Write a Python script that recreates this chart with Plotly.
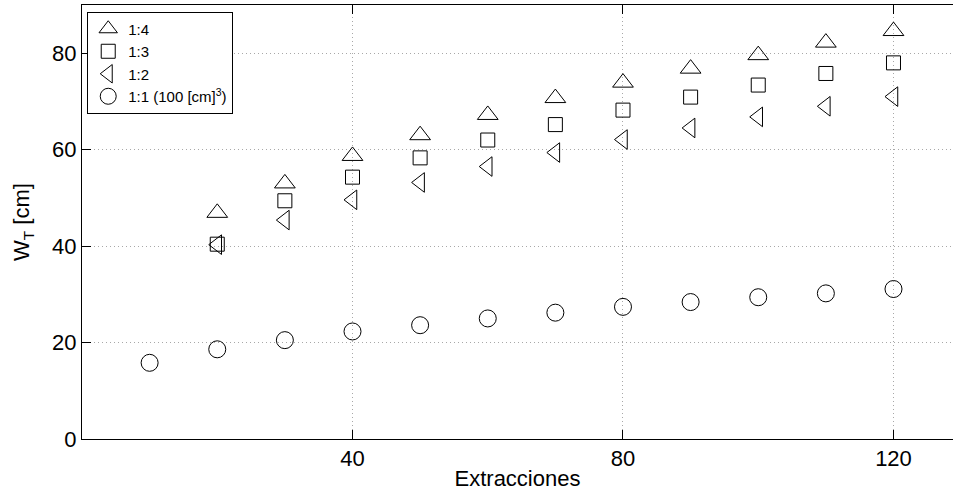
import plotly.graph_objects as go

# Extraction counts
x_all = [10, 20, 30, 40, 50, 60, 70, 80, 90, 100, 110, 120]
x_mix = [20, 30, 40, 50, 60, 70, 80, 90, 100, 110, 120]

# W_T [cm] for each ratio
w_14 = [46.9, 53.0, 58.7, 63.0, 67.2, 70.7, 73.9, 76.8, 79.6, 82.2, 84.6]
w_13 = [40.4, 49.4, 54.3, 58.3, 62.0, 65.2, 68.2, 70.9, 73.4, 75.8, 78.0]
w_12 = [40.3, 45.4, 49.6, 53.2, 56.5, 59.4, 62.1, 64.5, 66.8, 69.0, 71.0]
w_11 = [15.8, 18.6, 20.5, 22.3, 23.6, 25.0, 26.2, 27.4, 28.4, 29.4, 30.2, 31.1]

x_ticks = [40, 80, 120]
y_ticks = [0, 20, 40, 60, 80]

FONT = "Liberation Sans, Arial, sans-serif"

series = [
    ("1:4", x_mix, w_14, "triangle-up-open", 18),
    ("1:3", x_mix, w_13, "square-open", 14),
    ("1:2", x_mix, w_12, "triangle-left-open", 17),
    ("1:1 (100 [cm]<sup>3</sup>)", x_all, w_11, "circle-open", 17),
]

fig = go.Figure()
for name, xs, ys, sym, sz in series:
    fig.add_trace(go.Scatter(
        x=xs, y=ys, mode="markers", name=name,
        marker=dict(symbol=sym, size=sz, color="black",
                    line=dict(color="black", width=1)),
    ))

fig.update_layout(
    width=953, height=496,
    margin=dict(l=82, r=0, t=5, b=57),
    paper_bgcolor="white", plot_bgcolor="white",
    font=dict(family=FONT, size=22, color="black"),
    showlegend=True,
    legend=dict(
        x=0.006, y=0.985, xanchor="left", yanchor="top",
        bgcolor="white", bordercolor="black", borderwidth=1,
        font=dict(family=FONT, size=15, color="black"),
        itemsizing="trace", tracegroupgap=0,
    ),
)

grid = dict(showgrid=True, gridcolor="#a8a8a8", griddash="1px,3px", gridwidth=1)

fig.update_xaxes(
    range=[0, 128.8], tickmode="array", tickvals=x_ticks,
    ticks="inside", ticklen=9, tickwidth=1, tickcolor="black",
    showline=True, linecolor="black", linewidth=1, mirror="ticks",
    zeroline=False, **grid,
    title=dict(text="Extracciones", standoff=0, font=dict(size=22)),
    tickfont=dict(size=22),
)
fig.update_yaxes(
    range=[0, 90], tickmode="array", tickvals=y_ticks,
    ticks="inside", ticklen=9, tickwidth=1, tickcolor="black",
    showline=True, linecolor="black", linewidth=1, mirror=False,
    zeroline=False, **grid,
    title=dict(text="W<sub>T</sub> [cm]", standoff=16, font=dict(size=22)),
    tickfont=dict(size=22),
)

fig.write_html("out.html")
